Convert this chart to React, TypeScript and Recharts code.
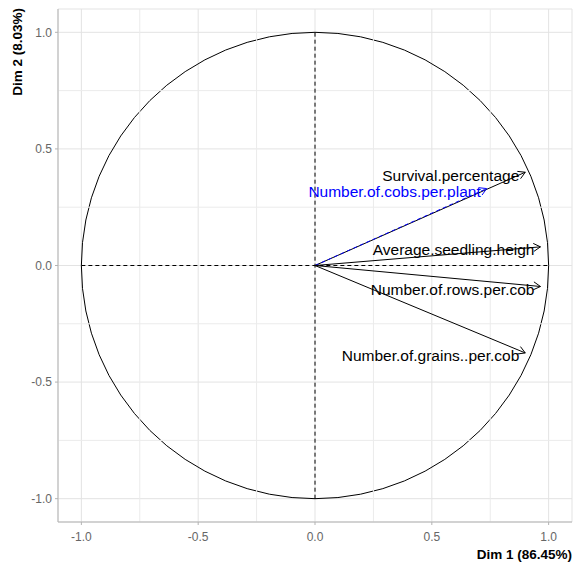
import React from 'react';
import { ComposedChart, XAxis, YAxis, CartesianGrid, ReferenceLine, ReferenceArea, Label } from 'recharts';

// variables of the PCA correlation circle
const variables = [
  'Survival.percentage',
  'Number.of.cobs.per.plant',
  'Average.seedling.heigh',
  'Number.of.rows.per.cob',
  'Number.of.grains..per.cob',
];
const dim1 = [0.9, 0.735, 0.965, 0.965, 0.9];
const dim2 = [0.4, 0.33, 0.08, -0.09, -0.375];
const varColors = ['#000000', '#0000FF', '#000000', '#000000', '#000000'];
const varDashed = [false, true, false, false, false];

const majorTicks = [-1, -0.5, 0, 0.5, 1];
const minorTicks = [-0.75, -0.25, 0.25, 0.75];

const FONT = '"Liberation Sans", Arial, sans-serif';

const arrowShape = (i: number) => (props: any) => {
  const { x1, y1, x2, y2 } = props;
  const ang = Math.atan2(y2 - y1, x2 - x1);
  const len = 8;
  const spread = Math.PI / 6;
  const ax = x2 - len * Math.cos(ang - spread);
  const ay = y2 - len * Math.sin(ang - spread);
  const bx = x2 - len * Math.cos(ang + spread);
  const by = y2 - len * Math.sin(ang + spread);
  const color = varColors[i];
  return (
    <g>
      <text
        x={x2 - 6}
        y={y2 + 3}
        textAnchor="end"
        dominantBaseline="central"
        fontSize={15.5}
        fontFamily={FONT}
        fill={color}
      >
        {variables[i]}
      </text>
      <line
        x1={x1}
        y1={y1}
        x2={x2}
        y2={y2}
        stroke={color}
        strokeWidth={1}
        strokeDasharray={varDashed[i] ? '4 3' : undefined}
      />
      <polyline points={`${ax},${ay} ${x2},${y2} ${bx},${by}`} fill="none" stroke={color} strokeWidth={1} />
    </g>
  );
};

const circleShape = (props: any) => {
  const { x, y, width, height } = props;
  return (
    <ellipse
      cx={x + width / 2}
      cy={y + height / 2}
      rx={Math.abs(width) / 2}
      ry={Math.abs(height) / 2}
      fill="none"
      stroke="#000"
      strokeWidth={1}
    />
  );
};

const App: React.FC = () => {
  return (
    <div style={{ position: 'absolute', left: 0, top: 0, background: '#fff' }}>
      <ComposedChart width={574} height={565} data={[]} margin={{ top: 9, right: 2, left: 0, bottom: 0 }}>
        <CartesianGrid stroke="#e3e3e3" />
        {minorTicks.map((v) => (
          <ReferenceLine key={`mx${v}`} x={v} stroke="#ebebeb" />
        ))}
        {minorTicks.map((v) => (
          <ReferenceLine key={`my${v}`} y={v} stroke="#ebebeb" />
        ))}
        <XAxis
          type="number"
          dataKey="x"
          domain={[-1.1, 1.1]}
          ticks={majorTicks}
          allowDataOverflow
          tickFormatter={(v: number) => v.toFixed(1)}
          height={43}
          tickSize={3}
          tickMargin={7}
          axisLine={{ stroke: '#b3b3b3' }}
          tickLine={{ stroke: '#b3b3b3' }}
          tick={{ fill: '#666', fontSize: 12, fontFamily: FONT }}
        >
          <Label
            content={() => (
              <text x={572} y={559} textAnchor="end" fontSize={13.5} fontWeight="bold" fontFamily={FONT} fill="#000">
                Dim 1 (86.45%)
              </text>
            )}
          />
        </XAxis>
        <YAxis
          type="number"
          dataKey="y"
          domain={[-1.1, 1.1]}
          ticks={majorTicks}
          allowDataOverflow
          tickFormatter={(v: number) => v.toFixed(1)}
          width={58}
          tickSize={3}
          tickMargin={3}
          axisLine={{ stroke: '#b3b3b3' }}
          tickLine={{ stroke: '#b3b3b3' }}
          tick={{ fill: '#666', fontSize: 12, fontFamily: FONT }}
        >
          <Label
            content={() => (
              <text
                transform="translate(17,8) rotate(-90)"
                textAnchor="end"
                dominantBaseline="central"
                fontSize={13.5}
                fontWeight="bold"
                fontFamily={FONT}
                fill="#000"
              >
                Dim 2 (8.03%)
              </text>
            )}
          />
        </YAxis>
        <ReferenceArea x1={-1} x2={1} y1={-1} y2={1} shape={circleShape} />
        <ReferenceLine
          segment={[{ x: -1, y: 0 }, { x: 1, y: 0 }]}
          stroke="#000"
          strokeDasharray="4 3"
        />
        <ReferenceLine
          segment={[{ x: 0, y: -1 }, { x: 0, y: 1 }]}
          stroke="#000"
          strokeDasharray="4 3"
        />
        {variables.map((name, i) => (
          <ReferenceLine
            key={name}
            segment={[{ x: 0, y: 0 }, { x: dim1[i], y: dim2[i] }]}
            shape={arrowShape(i)}
          />
        ))}
      </ComposedChart>
    </div>
  );
};

export default App;
